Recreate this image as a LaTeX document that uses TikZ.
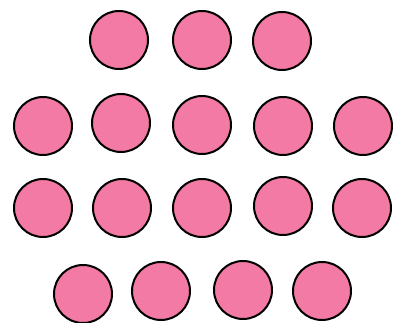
\documentclass[tikz,border=0pt]{standalone}
\usepackage{tikz}
\definecolor{cpink}{RGB}{244,122,166}
\tikzset{
  dot/.style={circle,fill=cpink,draw=black,line width=1.5pt,
    minimum size=43.5pt,inner sep=0pt}
}
\begin{document}
\begin{tikzpicture}[x=0.75pt,y=-0.75pt]
  \useasboundingbox (0,0) rectangle (393,323);
  % top row
  \foreach \x/\y [count=\i] in {119/40,202/40,282/41}
    \node[dot] (a\i) at (\x,\y) {};
  % second row
  \foreach \x/\y [count=\i] in {43/126,121/123,202/125,283/126,363/126}
    \node[dot] (b\i) at (\x,\y) {};
  % third row
  \foreach \x/\y [count=\i] in {43/208,122/208,202/208,283/206,362/208}
    \node[dot] (c\i) at (\x,\y) {};
  % bottom row
  \foreach \x/\y [count=\i] in {83/294,161/291,243/290,322/291}
    \node[dot] (d\i) at (\x,\y) {};
\end{tikzpicture}
\end{document}
